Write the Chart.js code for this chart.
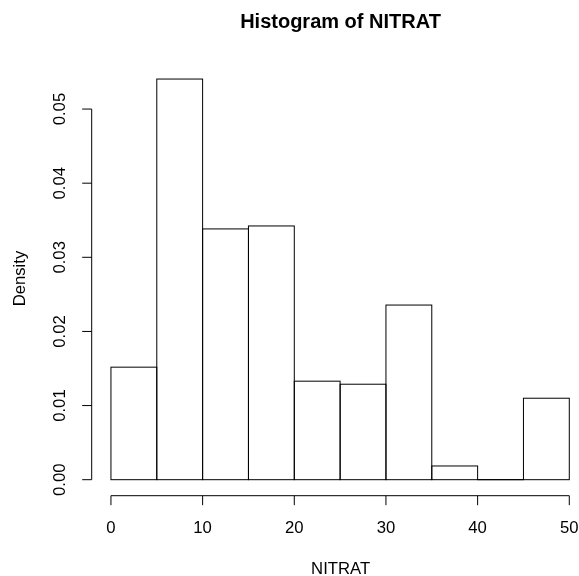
<!DOCTYPE html>
<html>
<head>
<meta charset="utf-8">
<script src="https://cdn.jsdelivr.net/npm/chart.js@4/dist/chart.umd.min.js"></script>
<style>
  html, body { margin: 0; padding: 0; background: #ffffff; }
  #wrap { width: 579px; height: 576px; }
</style>
</head>
<body>
<div id="wrap"><canvas id="c" width="579" height="576"></canvas></div>
<script>
// ---- data ----
const breaks = [0, 5, 10, 15, 20, 25, 30, 35, 40, 45, 50];
const binCenters = [2.5, 7.5, 12.5, 17.5, 22.5, 27.5, 32.5, 37.5, 42.5, 47.5];
const density = [0.01518, 0.05405, 0.03383, 0.03423, 0.01329, 0.01288, 0.02356, 0.00185, 0, 0.01099];
const xTicks = [0, 10, 20, 30, 40, 50];
const yTicks = [0, 0.01, 0.02, 0.03, 0.04, 0.05];
const yTickLabels = ["0.00", "0.01", "0.02", "0.03", "0.04", "0.05"];
const titleText = "Histogram of NITRAT";
const xLabel = "NITRAT";
const yLabel = "Density";

const FONT = '"Liberation Sans", Arial, Helvetica, sans-serif';

const rAxesPlugin = {
  id: 'rAxes',
  afterDatasetsDraw(chart) {
    const ctx = chart.ctx;
    const meta = chart.getDatasetMeta(0);
    ctx.save();
    ctx.strokeStyle = '#000000';
    ctx.lineWidth = 1;
    meta.data.forEach(el => {
      const p = el.getProps(['x', 'y', 'base', 'width'], true);
      ctx.strokeRect(p.x - p.width / 2, p.y, p.width, p.base - p.y);
    });
    ctx.restore();
  },
  afterDraw(chart) {
    const ctx = chart.ctx;
    const xs = chart.scales.x, ys = chart.scales.y;
    const area = chart.chartArea;
    ctx.save();
    ctx.strokeStyle = '#000000';
    ctx.fillStyle = '#000000';
    ctx.lineWidth = 1;

    // x axis
    const xb = area.bottom;
    const x0 = xs.getPixelForValue(xTicks[0]);
    const x1 = xs.getPixelForValue(xTicks[xTicks.length - 1]);
    ctx.beginPath();
    ctx.moveTo(x0, xb); ctx.lineTo(x1, xb);
    xTicks.forEach(v => {
      const px = xs.getPixelForValue(v);
      ctx.moveTo(px, xb); ctx.lineTo(px, xb + 9.5);
    });
    ctx.stroke();
    ctx.font = '16.7px ' + FONT;
    ctx.textAlign = 'center';
    ctx.textBaseline = 'alphabetic';
    xTicks.forEach(v => {
      ctx.fillText(String(v), xs.getPixelForValue(v), xb + 37.6);
    });

    // y axis
    const yl = area.left;
    const y0 = ys.getPixelForValue(yTicks[0]);
    const y1 = ys.getPixelForValue(yTicks[yTicks.length - 1]);
    ctx.beginPath();
    ctx.moveTo(yl, y0); ctx.lineTo(yl, y1);
    yTicks.forEach(v => {
      const py = ys.getPixelForValue(v);
      ctx.moveTo(yl, py); ctx.lineTo(yl - 9.5, py);
    });
    ctx.stroke();
    yTicks.forEach((v, i) => {
      const py = ys.getPixelForValue(v);
      ctx.save();
      ctx.translate(yl - 26.7, py);
      ctx.rotate(-Math.PI / 2);
      ctx.textAlign = 'center';
      ctx.fillText(yTickLabels[i], 0, 0);
      ctx.restore();
    });

    // axis titles
    const midX = xs.getPixelForValue((xTicks[0] + xTicks[xTicks.length - 1]) / 2);
    ctx.textAlign = 'center';
    ctx.fillText(xLabel, midX + 0.5, 573.7);
    const midY = (area.top + area.bottom) / 2;
    ctx.save();
    ctx.translate(24.8, midY - 1);
    ctx.rotate(-Math.PI / 2);
    ctx.fillText(yLabel, 0, 0);
    ctx.restore();

    // main title
    ctx.font = 'bold 20px ' + FONT;
    ctx.fillText(titleText, midX + 0.4, 28.3);
    ctx.restore();
  }
};

new Chart(document.getElementById('c'), {
  type: 'bar',
  data: {
    datasets: [{
      data: binCenters.map((c, i) => ({ x: c, y: density[i] })),
      backgroundColor: '#ffffff',
      borderWidth: 0,
      barPercentage: 1,
      categoryPercentage: 1
    }]
  },
  options: {
    responsive: false,
    devicePixelRatio: 1,
    animation: false,
    layout: { padding: { left: 91.7, right: 0, top: 63.4, bottom: 80.3 } },
    plugins: { legend: { display: false }, title: { display: false }, tooltip: { enabled: false } },
    scales: {
      x: {
        type: 'linear', display: false, offset: false,
        min: -2.1, max: 51.06,
        grid: { offset: false }
      },
      y: {
        type: 'linear', display: false,
        min: -0.00216, max: 0.05616
      }
    }
  },
  plugins: [rAxesPlugin]
});
</script>
</body>
</html>
